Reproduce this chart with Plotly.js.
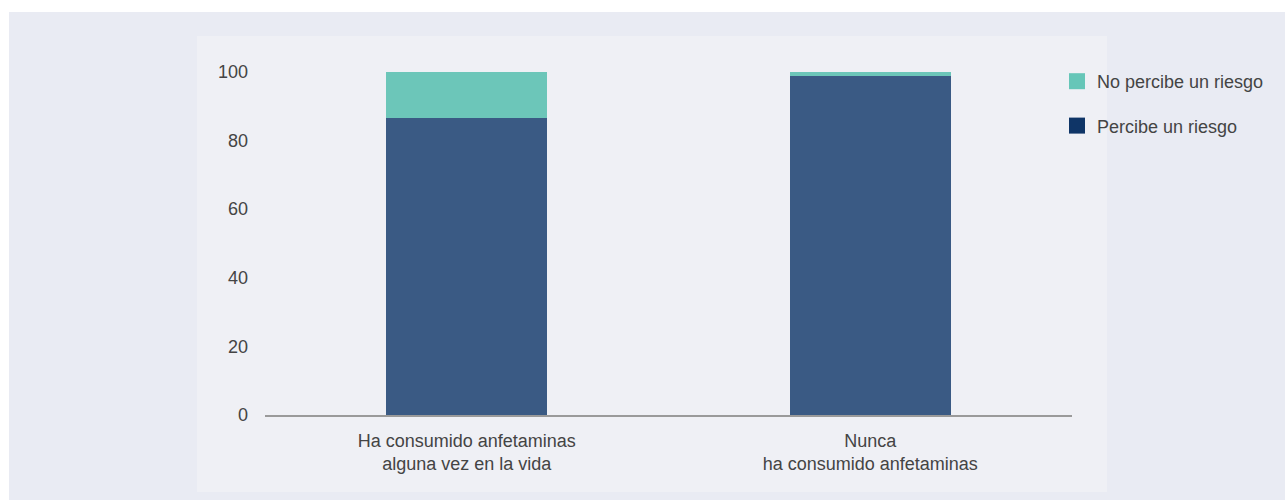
<!DOCTYPE html>
<html>
<head>
<meta charset="utf-8">
<script src="https://cdn.plot.ly/plotly-3.0.1.min.js"></script>
<style>html,body{margin:0;padding:0;background:#fff;}#chart{width:1285px;height:500px;}</style>
</head>
<body>
<div id="chart"></div>
<script>
const categories = ["Ha consumido anfetaminas<br>alguna vez en la vida", "Nunca<br>ha consumido anfetaminas"];
const seriesNames = ["Percibe un riesgo", "No percibe un riesgo"];
const percibe = [86.4, 98.7];
const noPercibe = [13.6, 1.3];
const barColors = ["#0d3468", "#4bbbaa"];
const legendColors = ["#0f3567", "#66c6b8"];
const yTicks = [0, 20, 40, 60, 80, 100];

const font = {family: "Liberation Sans, Arial, sans-serif", size: 18, color: "#444"};

const traces = [
  {type: "bar", x: categories, y: percibe, name: seriesNames[0], marker: {color: barColors[0], opacity: 0.8, line: {width: 0}}, width: 0.4, showlegend: false, hoverinfo: "y"},
  {type: "bar", x: categories, y: noPercibe, name: seriesNames[1], marker: {color: barColors[1], opacity: 0.8, line: {width: 0}}, width: 0.4, showlegend: false, hoverinfo: "y"},
  {type: "scatter", mode: "markers", x: [null], y: [null], name: seriesNames[1], legendgroup: "a", marker: {symbol: "square", size: 17, color: legendColors[1]}},
  {type: "scatter", mode: "markers", x: [null], y: [null], name: seriesNames[0], legendgroup: "b", marker: {symbol: "square", size: 17, color: legendColors[0]}}
];

// pixel helpers for paper coordinates
const L = 265, R = 1072, T = 56, B = 415;
const px = v => (v - L) / (R - L);
const py = v => (B - v) / (B - T);

const layout = {
  width: 1285, height: 500,
  margin: {l: L, r: 1285 - R, t: T, b: 500 - B, pad: 0},
  paper_bgcolor: "#ffffff",
  plot_bgcolor: "rgba(0,0,0,0)",
  barmode: "stack",
  font: font,
  xaxis: {
    type: "category", range: [-0.5, 1.5], showgrid: false, zeroline: false,
    showline: true, linecolor: "#9a9a9a", linewidth: 2, ticks: "", ticklabelstandoff: 8,
    tickfont: font
  },
  yaxis: {
    range: [0, 104.6], tickvals: yTicks, ticktext: yTicks.map(String), showgrid: false, zeroline: false,
    showline: false, ticks: "", ticklabelstandoff: 16, tickfont: font
  },
  legend: {
    x: px(1057), y: py(63), xanchor: "left", yanchor: "top",
    traceorder: "grouped", tracegroupgap: 18,
    bgcolor: "rgba(0,0,0,0)", font: font
  },
  shapes: [
    {type: "rect", xref: "paper", yref: "paper", x0: px(9), x1: px(1290), y0: py(12), y1: py(505), fillcolor: "#e9ebf3", line: {width: 0}, layer: "below"},
    {type: "rect", xref: "paper", yref: "paper", x0: px(197), x1: px(1107), y0: py(36), y1: py(492), fillcolor: "#eff0f5", line: {width: 0}, layer: "below"}
  ]
};

Plotly.newPlot("chart", traces, layout, {displayModeBar: false, staticPlot: true});
</script>
</body>
</html>
